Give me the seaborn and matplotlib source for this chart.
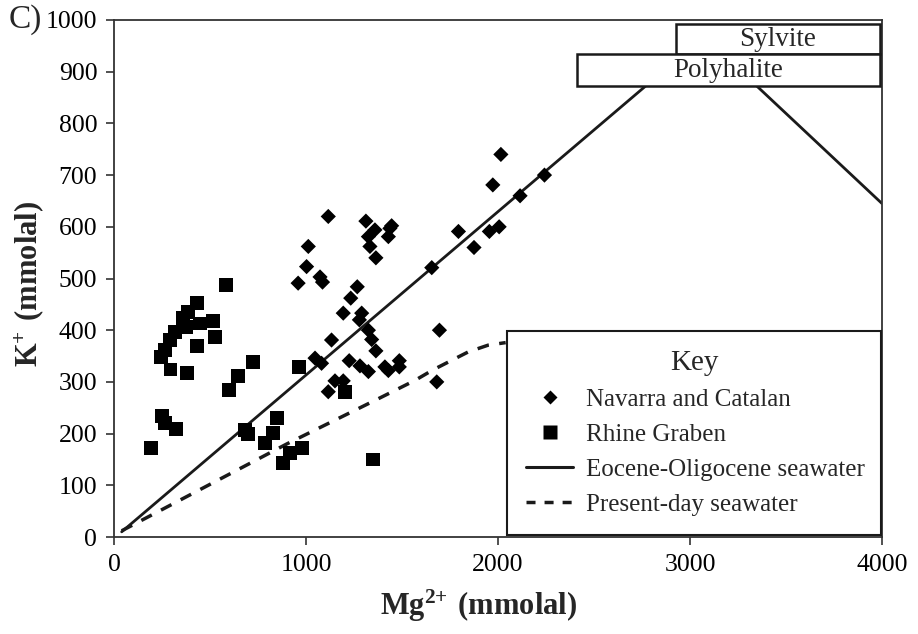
import matplotlib
matplotlib.use("Agg")
import matplotlib.pyplot as plt
from matplotlib.lines import Line2D
from matplotlib.patches import Rectangle
import seaborn as sns
import pandas as pd

# Navarra and Catalan brine inclusions (Mg2+, K+ in mmolal)
navarra_mg = [1116, 1312, 1446, 1437, 1359, 1325, 1429, 1333, 1364, 1012,
              1003, 959, 1073, 1086, 1267, 1233, 1194, 1290, 1278, 1655,
              1325, 1342, 1364, 1133, 1047, 1081, 1225, 1281, 1325, 1411,
              1429, 1486, 1486, 1151, 1194, 1116, 1695, 1681, 2015, 1973,
              2242, 2115, 1794, 1955, 2006, 1875]
navarra_k = [620, 611, 602, 597, 594, 581, 581, 562, 540, 562,
             523, 491, 503, 493, 484, 462, 433, 433, 420, 521,
             400, 382, 360, 381, 346, 336, 341, 331, 320, 329,
             322, 341, 329, 302, 302, 281, 400, 300, 740, 681,
             700, 660, 591, 591, 600, 560]

# Rhine Graben brine inclusions
rhine_mg = [583, 430, 386, 360, 450, 516, 525, 377, 316, 290,
            264, 247, 430, 294, 381, 725, 647, 600, 191, 252,
            264, 325, 681, 699, 847, 826, 786, 916, 881, 965,
            977, 1203, 1347]
rhine_k = [487, 452, 436, 423, 413, 418, 387, 407, 397, 381,
           362, 349, 369, 324, 317, 339, 311, 284, 173, 234,
           220, 209, 207, 200, 230, 202, 181, 162, 143, 329,
           172, 281, 150]

# Seawater evaporation paths
eocene_mg = [40, 2825, 3297, 4000]
eocene_k = [10, 890, 890, 645]
present_mg = [40, 900, 1385, 1568, 1660, 1755, 1845, 1948, 2040]
present_k = [12, 180, 269, 303, 323, 341, 358, 371, 376]

# Mineral saturation fields
mineral_names = ["Sylvite", "Polyhalite"]
mineral_mg = [(2929, 3987), (2412, 3987)]
mineral_k = [(934, 992), (872, 934)]

series_labels = ["Navarra and Catalan", "Rhine Graben",
                 "Eocene-Oligocene seawater", "Present-day seawater"]

sns.set_theme(style="ticks")
plt.rcParams["font.family"] = ["Liberation Serif", "DejaVu Serif"]
plt.rcParams["mathtext.fontset"] = "custom"
plt.rcParams["mathtext.rm"] = "Liberation Serif"
plt.rcParams["mathtext.bf"] = "Liberation Serif:bold"

ink = "#1a1a1a"
fig = plt.figure(figsize=(9.18, 6.34), dpi=100)
fig.patch.set_facecolor("white")
ax = fig.add_axes([114 / 918, 1 - 537 / 634, 768 / 918, 517 / 634])

nav = pd.DataFrame({"mg": navarra_mg, "k": navarra_k})
rhi = pd.DataFrame({"mg": rhine_mg, "k": rhine_k})
eoc = pd.DataFrame({"mg": eocene_mg, "k": eocene_k})
pre = pd.DataFrame({"mg": present_mg, "k": present_k})

sns.lineplot(data=eoc, x="mg", y="k", sort=False, color=ink, lw=2.0, ax=ax, zorder=2)
sns.lineplot(data=pre, x="mg", y="k", sort=False, color=ink, lw=2.5, ax=ax,
             zorder=2).lines[-1].set_dashes((3.4, 3.0))
sns.scatterplot(data=nav, x="mg", y="k", marker="D", s=60, color="black",
                edgecolor="none", ax=ax, zorder=3)
sns.scatterplot(data=rhi, x="mg", y="k", marker="s", s=100, color="black",
                edgecolor="none", ax=ax, zorder=3)

for name, (x0, x1), (y0, y1) in zip(mineral_names, mineral_mg, mineral_k):
    ax.add_patch(Rectangle((x0, y0), x1 - x0, y1 - y0, facecolor="white",
                           edgecolor=ink, lw=1.8, zorder=5, clip_on=False))
    ax.text((x0 + x1) / 2, (y0 + y1) / 2, name, ha="center", va="center",
            fontsize=19.5, zorder=6)

ax.set_xlim(0, 4000)
ax.set_ylim(0, 1000)
ax.set_xticks([0, 1000, 2000, 3000, 4000])
ax.set_yticks(range(0, 1001, 100))
ax.tick_params(axis="both", direction="out", length=6, width=1.2, color="#333333",
               labelsize=18.5, labelcolor="black", pad=6)
for sp in ax.spines.values():
    sp.set_visible(True)
    sp.set_color("#333333")
    sp.set_linewidth(1.3)

ax.set_xlabel(r"$\mathbf{Mg^{2{+}}\ (mmolal)}$", fontsize=22)
ax.set_ylabel(r"$\mathbf{K^{{+}}\ (mmolal)}$", fontsize=22)
ax.xaxis.set_label_coords((479 - 114) / 768, -(588 - 537) / 517)
ax.yaxis.set_label_coords(-(114 - 46) / 768, 0.49)

fig.text(9 / 918, 1 - 20 / 634, "C)", fontsize=24, ha="left", va="center")

handles = [
    Line2D([], [], marker="D", ls="", color="black", ms=7.6, mec="none"),
    Line2D([], [], marker="s", ls="", color="black", ms=10, mec="none"),
    Line2D([], [], color=ink, lw=2.2),
    Line2D([], [], color=ink, lw=2.5, dashes=(2.6, 2.6)),
]
leg = ax.legend(handles, series_labels, title="Key", loc="lower left",
                bbox_to_anchor=(0.512, 0.004, 0.487, 0.391), mode="expand",
                borderaxespad=0, fontsize=18, title_fontsize=21,
                frameon=True, fancybox=False, edgecolor=ink, framealpha=1,
                handlelength=1.9, handletextpad=0.5, labelspacing=0.5,
                borderpad=0.75)
leg.get_frame().set_linewidth(1.5)
leg.set_zorder(6)

fig.savefig("out.png", dpi=100, facecolor="white")
